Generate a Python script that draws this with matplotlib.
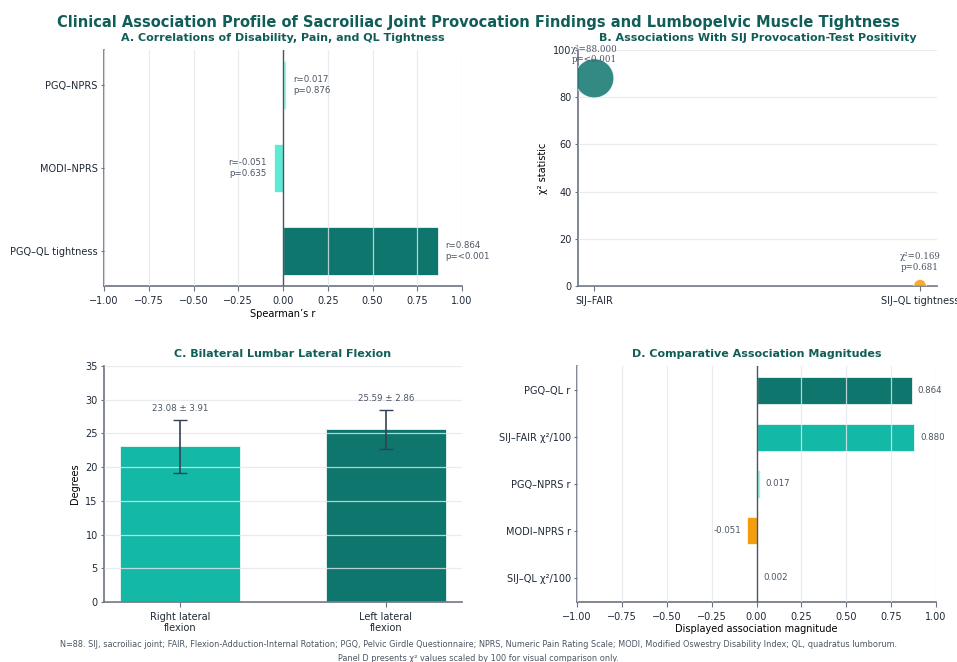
import matplotlib.pyplot as plt
import numpy as np

# panel A - Spearman correlations (bottom to top)
corr_labels = ["PGQ\u2013QL tightness", "MODI\u2013NPRS", "PGQ\u2013NPRS"]
corr_r = [0.864, -0.051, 0.017]
corr_p = ["<0.001", "0.635", "0.876"]

# panel B - chi-square tests
chi_labels = ["SIJ\u2013FAIR", "SIJ\u2013QL tightness"]
chi_vals = [88.000, 0.169]
chi_p = ["<0.001", "0.681"]

# panel C - lateral flexion
flex_labels = ["Right lateral\nflexion", "Left lateral\nflexion"]
flex_mean = [23.08, 25.59]
flex_sd = [3.91, 2.86]

# panel D - comparative magnitudes (top to bottom)
mag_labels = ["PGQ\u2013QL r", "SIJ\u2013FAIR \u03c7\u00b2/100", "PGQ\u2013NPRS r", "MODI\u2013NPRS r", "SIJ\u2013QL \u03c7\u00b2/100"]
mag_vals = [0.864, 0.880, 0.017, -0.051, 0.002]

DARK = "#0f766e"
MID = "#14b8a6"
LIGHT = "#5eead4"
PALE = "#99f6e4"
ORANGE = "#f59e0b"
TITLE_C = "#115e59"
TXT = "#4b5563"

plt.rcParams['font.family'] = ['DejaVu Sans']
plt.rcParams['axes.edgecolor'] = '#6b7280'
plt.rcParams['axes.linewidth'] = 1.2
plt.rcParams['xtick.color'] = '#6b7280'
plt.rcParams['ytick.color'] = '#6b7280'
plt.rcParams['xtick.labelcolor'] = '#1f2937'
plt.rcParams['ytick.labelcolor'] = '#1f2937'
plt.rcParams['xtick.labelsize'] = 7
plt.rcParams['ytick.labelsize'] = 7
plt.rcParams['ytick.major.size'] = 2.5
plt.rcParams['ytick.major.pad'] = 2
plt.rcParams['font.size'] = 7

fig = plt.figure(figsize=(9.57, 6.62), dpi=100)
axA = fig.add_axes([104/957, 1-286/662, 358/957, 236/662])
axB = fig.add_axes([578/957, 1-286/662, 359/957, 236/662])
axC = fig.add_axes([104/957, 1-602/662, 358/957, 236/662])
axD = fig.add_axes([577/957, 1-602/662, 359/957, 236/662])


def style(ax, gaxis):
    ax.spines['top'].set_visible(False)
    ax.spines['right'].set_visible(False)
    ax.grid(axis=gaxis, color='#e5e7eb', lw=0.9, alpha=0.8)
    ax.set_axisbelow(False)


fig.text(0.5, 1-22/662, "Clinical Association Profile of Sacroiliac Joint Provocation Findings and Lumbopelvic Muscle Tightness",
         ha='center', va='center', fontsize=10.5, fontweight='bold', color=TITLE_C)

# A
style(axA, 'x')
colsA = [DARK, LIGHT, PALE]
yA = np.arange(len(corr_labels))
axA.barh(yA, corr_r, height=0.58, color=colsA, edgecolor='white', lw=0.5, zorder=1)
axA.axvline(0, color='#4b5563', lw=1, zorder=3)
for i in range(len(corr_r)):
    r = corr_r[i]
    off = 0.04 if r >= 0 else -0.04
    axA.text(r + off, i, "r=%.3f\np=%s" % (r, corr_p[i]), ha='left' if r >= 0 else 'right',
             va='center', fontsize=6.2, color=TXT)
axA.set_yticks(yA)
axA.set_yticklabels(corr_labels)
axA.set_xlim(-1, 1)
axA.set_xlabel("Spearman\u2019s r", fontsize=7, labelpad=2)
axA.set_title("A. Correlations of Disability, Pain, and QL Tightness", fontsize=8,
              fontweight='bold', color=TITLE_C, pad=6.5)

# B
style(axB, 'y')
xB = np.arange(len(chi_labels))
sizes = np.maximum(80, np.array(chi_vals) * 9)
axB.scatter(xB, chi_vals, s=sizes, c=[DARK, ORANGE], alpha=0.85, edgecolors='white', lw=0.6, zorder=4)
for i in range(len(chi_vals)):
    axB.annotate("\u03c7\u00b2=%.3f\np=%s" % (chi_vals[i], chi_p[i]), (xB[i], chi_vals[i]),
                 xytext=(0, 10), textcoords='offset points', ha='center', va='bottom',
                 fontsize=6.2, color=TXT, family='DejaVu Serif', zorder=5)
axB.set_xticks(xB)
axB.set_xticklabels(chi_labels)
axB.set_xlim(-0.05, 1.052)
axB.set_ylim(0, 100)
axB.set_ylabel("\u03c7\u00b2 statistic", fontsize=7)
axB.set_title("B. Associations With SIJ Provocation-Test Positivity", fontsize=8,
              fontweight='bold', color=TITLE_C, pad=6.5)

# C
style(axC, 'y')
xC = np.arange(len(flex_labels))
axC.bar(xC, flex_mean, width=0.58, color=[MID, DARK], edgecolor='white', lw=0.5, zorder=1)
axC.errorbar(xC, flex_mean, yerr=flex_sd, fmt='none', ecolor='#334155', capsize=5, lw=1.2, zorder=4)
for i in range(len(flex_mean)):
    axC.text(xC[i], flex_mean[i] + flex_sd[i] + 1.0, "%.2f \u00b1 %.2f" % (flex_mean[i], flex_sd[i]),
             ha='center', va='bottom', fontsize=6.2, color=TXT)
axC.set_xticks(xC)
axC.set_xticklabels(flex_labels)
axC.set_ylim(0, 35)
axC.set_ylabel("Degrees", fontsize=7)
axC.set_title("C. Bilateral Lumbar Lateral Flexion", fontsize=8, fontweight='bold', color=TITLE_C, pad=6.5)

# D
style(axD, 'x')
colsD = [DARK, MID, PALE, ORANGE, ORANGE]
yD = np.arange(len(mag_labels))
axD.barh(yD, mag_vals, height=0.58, color=colsD, edgecolor='white', lw=0.5, zorder=1)
axD.axvline(0, color='#4b5563', lw=1, zorder=3)
for i in range(len(mag_vals)):
    v = mag_vals[i]
    off = 0.035 if v >= 0 else -0.035
    axD.text(v + off, i, "%.3f" % v, ha='left' if v >= 0 else 'right', va='center',
             fontsize=6.2, color=TXT)
axD.set_yticks(yD)
axD.set_yticklabels(mag_labels)
axD.invert_yaxis()
axD.set_xlim(-1, 1)
axD.set_xlabel("Displayed association magnitude", fontsize=7, labelpad=2)
axD.set_title("D. Comparative Association Magnitudes", fontsize=8, fontweight='bold', color=TITLE_C, pad=6.5)

fig.text(0.5, 1-651.5/662, "N=88. SIJ, sacroiliac joint; FAIR, Flexion-Adduction-Internal Rotation; PGQ, Pelvic Girdle Questionnaire; "
         "NPRS, Numeric Pain Rating Scale; MODI, Modified Oswestry Disability Index; QL, quadratus lumborum.\n"
         "Panel D presents \u03c7\u00b2 values scaled by 100 for visual comparison only.",
         ha='center', va='center', fontsize=5.9, color='#4b5563', linespacing=1.6)

fig.savefig("out.png", dpi=100)
